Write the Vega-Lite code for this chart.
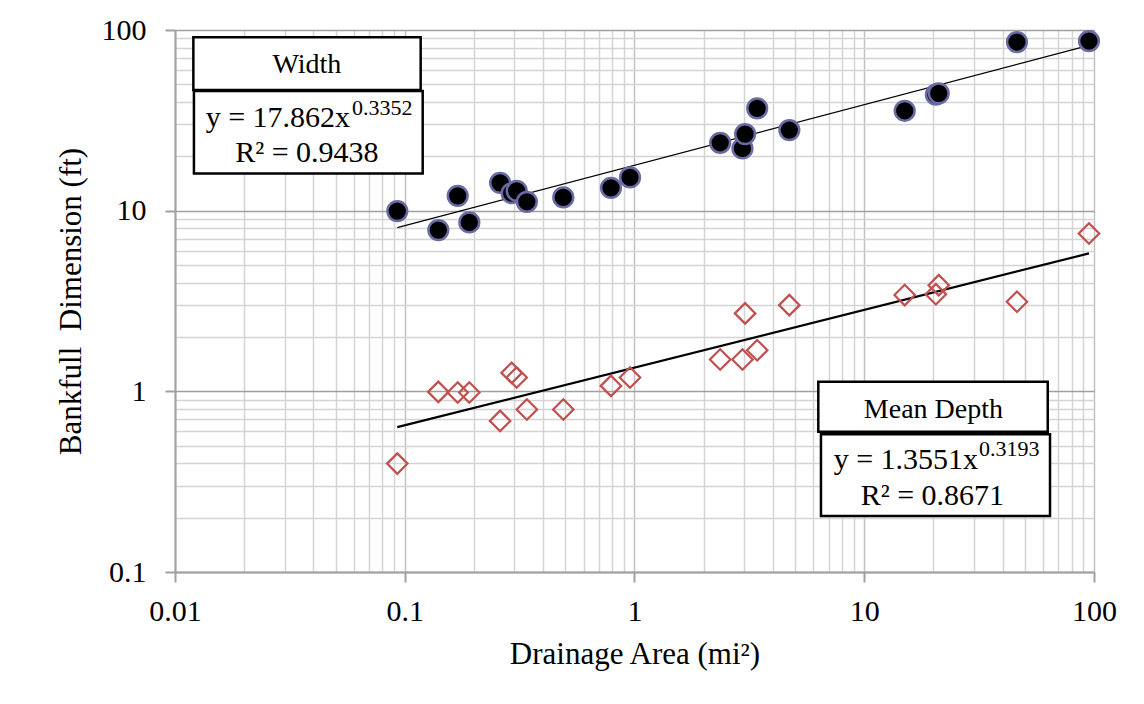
{
  "$schema": "https://vega.github.io/schema/vega-lite/v6.json",
  "width": 919,
  "height": 542,
  "autosize": "none",
  "padding": {"left": 175, "top": 30, "right": 50, "bottom": 132},
  "background": "white",
  "config": {
    "view": {"stroke": null},
    "font": "Liberation Serif",
    "axis": {
      "labelFont": "Liberation Serif",
      "titleFont": "Liberation Serif",
      "labelColor": "#000000",
      "titleColor": "#000000",
      "titleFontWeight": "normal",
      "labelFlush": false
    }
  },
  "datasets": {
    "obs": [
      {"area": 0.0928, "width": 9.95, "depth": 0.398},
      {"area": 0.140, "width": 7.81, "depth": 0.993},
      {"area": 0.170, "width": 12.08, "depth": 0.985},
      {"area": 0.191, "width": 8.61, "depth": 0.985},
      {"area": 0.260, "width": 14.26, "depth": 0.686},
      {"area": 0.292, "width": 12.5, "depth": 1.265},
      {"area": 0.307, "width": 12.88, "depth": 1.193},
      {"area": 0.340, "width": 11.2, "depth": 0.793},
      {"area": 0.490, "width": 11.84, "depth": 0.793},
      {"area": 0.790, "width": 13.38, "depth": 1.072},
      {"area": 0.956, "width": 15.28, "depth": 1.193},
      {"area": 2.36, "width": 23.76, "depth": 1.50},
      {"area": 2.95, "width": 22.12, "depth": 1.50},
      {"area": 3.03, "width": 26.55, "depth": 2.70},
      {"area": 3.42, "width": 36.85, "depth": 1.689},
      {"area": 4.72, "width": 27.93, "depth": 3.0},
      {"area": 15.0, "width": 35.73, "depth": 3.41},
      {"area": 20.5, "width": 43.93, "depth": 3.45},
      {"area": 21.1, "width": 44.6, "depth": 3.87},
      {"area": 46.2, "width": 85.8, "depth": 3.13},
      {"area": 95.1, "width": 86.9, "depth": 7.48}
    ],
    "fit": [
      {"area": 0.0928, "width": 8.05, "depth": 0.634},
      {"area": 95.1, "width": 82.2, "depth": 5.80}
    ],
    "boxes": [
      {"x1": 0.01202, "x2": 0.1173, "y1": 91.1, "y2": 46.5},
      {"x1": 0.01209, "x2": 0.1197, "y1": 45.9, "y2": 16.08},
      {"x1": 6.31, "x2": 62.9, "y1": 1.129, "y2": 0.597},
      {"x1": 6.48, "x2": 64.35, "y1": 0.579, "y2": 0.2042}
    ],
    "notes": [
      {"part": "title", "x": 0.0375, "y": 57.6, "text": "Width"},
      {"part": "eq", "x": 0.0578, "y": 29.0, "text": "y = 17.862x"},
      {"part": "exp", "x": 0.0590, "y": 33.8, "text": "0.3352"},
      {"part": "r2", "x": 0.0375, "y": 18.65, "text": "R² = 0.9438"},
      {"part": "title", "x": 20.0, "y": 0.7128, "text": "Mean Depth"},
      {"part": "eq", "x": 31.3, "y": 0.3739, "text": "y = 1.3551x"},
      {"part": "exp", "x": 31.6, "y": 0.4391, "text": "0.3193"},
      {"part": "r2", "x": 19.8, "y": 0.2362, "text": "R² = 0.8671"}
    ]
  },
  "layer": [
    {
      "data": {"name": "fit"},
      "mark": {"type": "line", "color": "#000000", "strokeWidth": 2.2},
      "encoding": {
        "x": {
          "field": "area", "type": "quantitative",
          "scale": {"type": "log", "domain": [0.01, 100], "nice": false},
          "axis": {
            "orient": "bottom",
            "values": [0.02, 0.03, 0.04, 0.05, 0.06, 0.07, 0.08, 0.09, 0.2, 0.3, 0.4, 0.5, 0.6, 0.7, 0.8, 0.9, 2, 3, 4, 5, 6, 7, 8, 9, 20, 30, 40, 50, 60, 70, 80, 90],
            "grid": true, "gridColor": "#d4d4d4", "gridWidth": 1.5,
            "labels": false, "ticks": false, "domain": false, "title": null
          }
        },
        "y": {
          "field": "depth", "type": "quantitative",
          "scale": {"type": "log", "domain": [0.1, 100], "nice": false},
          "axis": {
            "orient": "left",
            "values": [0.2, 0.3, 0.4, 0.5, 0.6, 0.7, 0.8, 0.9, 2, 3, 4, 5, 6, 7, 8, 9, 20, 30, 40, 50, 60, 70, 80, 90],
            "grid": true, "gridColor": "#d4d4d4", "gridWidth": 1.5,
            "labels": false, "ticks": false, "domain": false, "title": null
          }
        }
      }
    },
    {
      "data": {"name": "fit"},
      "mark": {"type": "line", "color": "#000000", "strokeWidth": 1.2},
      "encoding": {
        "x": {
          "field": "area", "type": "quantitative",
          "scale": {"type": "log", "domain": [0.01, 100], "nice": false},
          "axis": {
            "orient": "bottom",
            "values": [0.01, 0.1, 1, 10, 100],
            "format": "~g",
            "grid": true, "gridColor": "#c2c2c2", "gridWidth": 1.5,
            "domain": true, "domainColor": "#a0a0a0", "domainWidth": 2,
            "ticks": true, "tickSize": 10, "tickColor": "#a0a0a0", "tickWidth": 2,
            "labelFontSize": 30, "labelPadding": 14,
            "title": "Drainage Area (mi²)",
            "titleFontSize": 31, "titleBaseline": "alphabetic", "titleY": 91
          }
        },
        "y": {
          "field": "width", "type": "quantitative",
          "scale": {"type": "log", "domain": [0.1, 100], "nice": false},
          "axis": {
            "orient": "left",
            "values": [0.1, 1, 10, 100],
            "format": "~g",
            "grid": true, "gridColor": "#a0a0a0", "gridWidth": 1.5,
            "domain": true, "domainColor": "#a0a0a0", "domainWidth": 2,
            "ticks": true, "tickSize": 10, "tickColor": "#a0a0a0", "tickWidth": 2,
            "labelFontSize": 30, "labelPadding": 19,
            "title": "Bankfull\u00a0 Dimension (ft)",
            "titleFontSize": 31, "titleBaseline": "alphabetic", "titleX": -95
          }
        }
      }
    },
    {
      "data": {"name": "obs"},
      "mark": {"type": "point", "shape": "diamond", "filled": false, "size": 420, "stroke": "#c0504d", "strokeWidth": 2.2, "opacity": 1},
      "encoding": {
        "x": {"field": "area", "type": "quantitative", "scale": {"type": "log", "domain": [0.01, 100], "nice": false}, "axis": null},
        "y": {"field": "depth", "type": "quantitative", "scale": {"type": "log", "domain": [0.1, 100], "nice": false}, "axis": null}
      }
    },
    {
      "data": {"name": "obs"},
      "mark": {"type": "point", "shape": "circle", "filled": true, "size": 390, "fill": "#000000", "stroke": "#6a6aa6", "strokeWidth": 2.5, "opacity": 1},
      "encoding": {
        "x": {"field": "area", "type": "quantitative", "scale": {"type": "log", "domain": [0.01, 100], "nice": false}, "axis": null},
        "y": {"field": "width", "type": "quantitative", "scale": {"type": "log", "domain": [0.1, 100], "nice": false}, "axis": null}
      }
    },
    {
      "data": {"name": "boxes"},
      "mark": {"type": "rect", "fill": "#ffffff", "stroke": "#000000", "strokeWidth": 2.5},
      "encoding": {
        "x": {"field": "x1", "type": "quantitative", "scale": {"type": "log", "domain": [0.01, 100], "nice": false}, "axis": null},
        "x2": {"field": "x2"},
        "y": {"field": "y1", "type": "quantitative", "scale": {"type": "log", "domain": [0.1, 100], "nice": false}, "axis": null},
        "y2": {"field": "y2"}
      }
    },
    {
      "data": {"name": "notes"},
      "transform": [{"filter": "datum.part === 'title'"}],
      "mark": {"type": "text", "fontSize": 28, "align": "center", "baseline": "alphabetic", "color": "#000000"},
      "encoding": {
        "x": {"field": "x", "type": "quantitative", "scale": {"type": "log", "domain": [0.01, 100], "nice": false}, "axis": null},
        "y": {"field": "y", "type": "quantitative", "scale": {"type": "log", "domain": [0.1, 100], "nice": false}, "axis": null},
        "text": {"field": "text"}
      }
    },
    {
      "data": {"name": "notes"},
      "transform": [{"filter": "datum.part === 'eq'"}],
      "mark": {"type": "text", "fontSize": 30, "align": "right", "baseline": "alphabetic", "color": "#000000"},
      "encoding": {
        "x": {"field": "x", "type": "quantitative", "scale": {"type": "log", "domain": [0.01, 100], "nice": false}, "axis": null},
        "y": {"field": "y", "type": "quantitative", "scale": {"type": "log", "domain": [0.1, 100], "nice": false}, "axis": null},
        "text": {"field": "text"}
      }
    },
    {
      "data": {"name": "notes"},
      "transform": [{"filter": "datum.part === 'exp'"}],
      "mark": {"type": "text", "fontSize": 22, "align": "left", "baseline": "alphabetic", "color": "#000000"},
      "encoding": {
        "x": {"field": "x", "type": "quantitative", "scale": {"type": "log", "domain": [0.01, 100], "nice": false}, "axis": null},
        "y": {"field": "y", "type": "quantitative", "scale": {"type": "log", "domain": [0.1, 100], "nice": false}, "axis": null},
        "text": {"field": "text"}
      }
    },
    {
      "data": {"name": "notes"},
      "transform": [{"filter": "datum.part === 'r2'"}],
      "mark": {"type": "text", "fontSize": 30, "align": "center", "baseline": "alphabetic", "color": "#000000"},
      "encoding": {
        "x": {"field": "x", "type": "quantitative", "scale": {"type": "log", "domain": [0.01, 100], "nice": false}, "axis": null},
        "y": {"field": "y", "type": "quantitative", "scale": {"type": "log", "domain": [0.1, 100], "nice": false}, "axis": null},
        "text": {"field": "text"}
      }
    }
  ],
  "resolve": {"axis": {"x": "independent", "y": "independent"}}
}
